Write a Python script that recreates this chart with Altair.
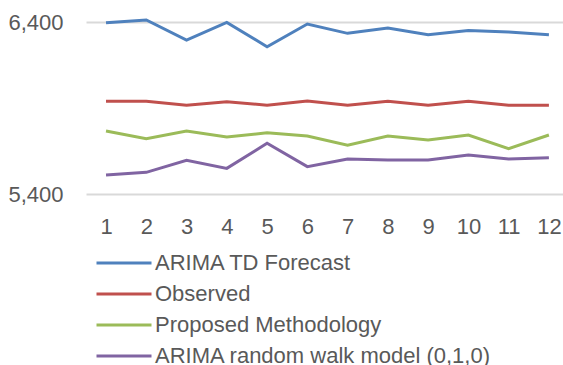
import altair as alt
import pandas as pd

months = list(range(1, 13))
series_names = ["ARIMA TD Forecast", "Observed", "Proposed Methodology", "ARIMA random walk model (0,1,0)"]
arima_td = [6396, 6412, 6295, 6398, 6256, 6388, 6334, 6365, 6326, 6350, 6342, 6326]
observed = [5939, 5939, 5916, 5937, 5916, 5941, 5916, 5939, 5916, 5939, 5916, 5916]
proposed = [5766, 5722, 5766, 5731, 5756, 5737, 5683, 5737, 5714, 5743, 5664, 5743]
random_walk = [5510, 5526, 5596, 5549, 5695, 5559, 5603, 5598, 5598, 5627, 5603, 5611]
colors = ["#4F81BD", "#C0504D", "#9BBB59", "#8064A2"]
y_ticks = [5400, 6400]

rows = []
for name, vals in zip(series_names, [arima_td, observed, proposed, random_walk]):
    for m, v in zip(months, vals):
        rows.append({"Month": m, "Value": v, "Series": name})
df = pd.DataFrame(rows)

FONT = "Liberation Sans"
GREY = "#595959"

chart = alt.Chart(df).mark_line(strokeWidth=3).encode(
    x=alt.X("Month:Q",
            scale=alt.Scale(domain=[0.503, 12.35], nice=False, zero=False),
            axis=alt.Axis(values=months, title=None, grid=False, domain=False, ticks=False,
                          labelFont=FONT, labelFontSize=22, labelColor=GREY,
                          labelPadding=22, labelFlush=False)),
    y=alt.Y("Value:Q",
            scale=alt.Scale(domain=[5400, 6400], nice=False, zero=False),
            axis=alt.Axis(values=y_ticks, format=",d", title=None, domain=False, ticks=False,
                          grid=True, gridColor="#D9D9D9", gridWidth=2,
                          labelFont=FONT, labelFontSize=22, labelColor=GREY,
                          labelPadding=23)),
    color=alt.Color("Series:N",
                    scale=alt.Scale(domain=series_names, range=colors),
                    sort=series_names,
                    legend=alt.Legend(title=None, orient="none", legendX=27, legendY=230,
                                      direction="vertical",
                                      symbolType="M-6.875,0H6.875",
                                      symbolSize=64, symbolStrokeWidth=3,
                                      labelFont=FONT, labelFontSize=22, labelColor=GREY,
                                      labelOffset=20, rowPadding=9, padding=0,
                                      labelLimit=500)),
).properties(
    width=477, height=172,
    autosize=alt.AutoSizeParams(type="none"),
    padding={"left": 86, "top": 22, "right": 0, "bottom": 171},
).configure_view(stroke=None)

chart.save("out.html", embed_options={"renderer": "svg", "actions": False})
